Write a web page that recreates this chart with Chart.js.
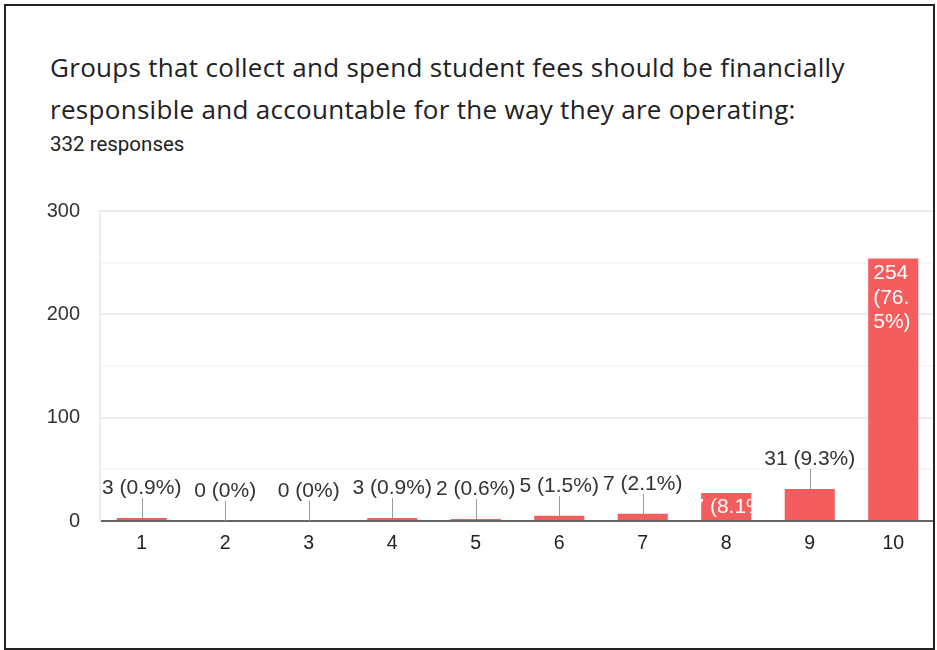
<!DOCTYPE html>
<html>
<head>
<meta charset="utf-8">
<script src="https://cdn.jsdelivr.net/npm/chart.js@4"></script>
<style>
  html, body { margin: 0; padding: 0; background: #fff; }
  #frame {
    position: absolute; left: 4px; top: 4px; width: 927px; height: 642px;
    border: 2px solid #222; overflow: hidden;
  }
  #title {
    position: absolute; left: 44px; top: 40px; margin: 0;
    font-family: "Open Sans", Roboto, sans-serif; font-size: 26px; font-weight: 400;
    line-height: 42px; color: #202124; letter-spacing: 0.3px;
  }
  #sub {
    position: absolute; left: 44px; top: 126px; margin: 0;
    font-family: Roboto, sans-serif; font-size: 20.5px; color: #202124;
  }
  #wrap { position: absolute; left: -6px; top: 173px; width: 935px; height: 391px; }
</style>
</head>
<body>
<div id="frame">
  <h1 id="title">Groups that collect and spend student fees should be financially<br>responsible and accountable for the way they are operating:</h1>
  <p id="sub">332 responses</p>
  <div id="wrap"><canvas id="c"></canvas></div>
</div>
<script>
document.addEventListener("DOMContentLoaded", () => {

    // --- DATA ---
    const categories = ['1', '2', '3', '4', '5', '6', '7', '8', '9', '10'];
    const counts = [3, 0, 0, 3, 2, 5, 7, 27, 31, 254];
    const labelTexts = ['3 (0.9%)', '0 (0%)', '0 (0%)', '3 (0.9%)', '2 (0.6%)', '5 (1.5%)', '7 (2.1%)', '27 (8.1%)', '31 (9.3%)', '254 (76.5%)'];
    const yTicks = [0, 100, 200, 300];

    const barColor = '#f45d5d';
    const labelFont = '21px "Liberation Sans", Arial, sans-serif';

    // --- LABELS PLUGIN ---
    const barLabels = {
        id: 'barLabels',
        afterDatasetsDraw(chart) {
            const { ctx } = chart;
            const meta = chart.getDatasetMeta(0);
            ctx.save();
            ctx.font = labelFont;
            meta.data.forEach((bar, i) => {
                const text = labelTexts[i];
                const left = bar.x - bar.width / 2;
                if (i === 9) {
                    // tall bar: wrapped label inside top
                    ctx.fillStyle = '#fff';
                    ctx.textAlign = 'left';
                    ctx.textBaseline = 'middle';
                    ['254', '(76.', '5%)'].forEach((line, k) => ctx.fillText(line, left + 5, bar.y + 15 + k * 24.5));
                } else if (i === 7) {
                    // clipped inside the bar
                    ctx.save();
                    ctx.beginPath();
                    ctx.rect(left, bar.y, bar.width, bar.base - bar.y);
                    ctx.clip();
                    ctx.fillStyle = '#fff';
                    ctx.textAlign = 'center';
                    ctx.textBaseline = 'middle';
                    ctx.fillText(text, bar.x, (bar.y + bar.base) / 2 + 1);
                    ctx.restore();
                } else {
                    ctx.strokeStyle = '#9a9a9a';
                    ctx.lineWidth = 1;
                    ctx.beginPath();
                    ctx.moveTo(Math.round(bar.x) + 0.5, bar.y - 20);
                    ctx.lineTo(Math.round(bar.x) + 0.5, bar.y);
                    ctx.stroke();
                    ctx.fillStyle = '#333';
                    ctx.textAlign = 'center';
                    ctx.textBaseline = 'middle';
                    ctx.fillText(text, bar.x, bar.y - 30);
                }
            });
            ctx.restore();
        }
    };

    // --- CHART ---
    new Chart(document.getElementById('c'), {
        type: 'bar',
        data: {
            labels: categories,
            datasets: [{ data: counts, backgroundColor: barColor, categoryPercentage: 1, barPercentage: 0.6 }]
        },
        options: {
            responsive: true,
            maintainAspectRatio: false,
            animation: false,
            layout: { padding: 0 },
            plugins: { legend: { display: false }, tooltip: { enabled: false } },
            scales: {
                x: {
                    afterFit: (s) => { s.height = 49; },
                    grid: { display: false, drawTicks: false },
                    border: { color: '#666', width: 2 },
                    ticks: { color: '#222', padding: 11, font: { family: '"Liberation Sans", Arial', size: 19.5 } }
                },
                y: {
                    min: 0, max: 300,
                    afterFit: (s) => { s.width = 100; },
                    afterBuildTicks: (s) => { s.ticks = [0, 50, 100, 150, 200, 250, 300].map(v => ({ value: v })); },
                    grid: {
                        drawTicks: false,
                        color: (c) => (c.tick && yTicks.includes(c.tick.value)) ? '#ececec' : '#f6f6f6',
                        lineWidth: 2
                    },
                    border: { display: true, color: '#ececec', width: 2 },
                    ticks: {
                        color: '#333', padding: 20,
                        font: { family: '"Liberation Sans", Arial', size: 20 },
                        callback: (v) => yTicks.includes(v) ? String(v) : ''
                    }
                }
            }
        },
        plugins: [barLabels]
    });
});
</script>
</body>
</html>
